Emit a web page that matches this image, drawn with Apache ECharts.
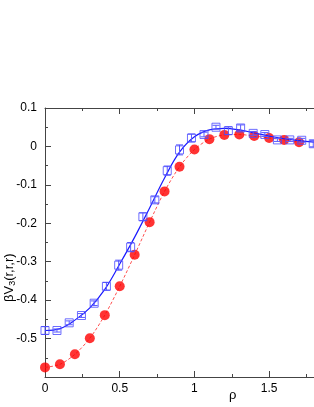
<!DOCTYPE html>
<html><head><meta charset="utf-8">
<script src="https://cdn.jsdelivr.net/npm/echarts@6/dist/echarts.min.js"></script>
<style>html,body{margin:0;padding:0;background:#fff}#c{width:314px;height:407px}</style>
</head><body><div id="c"></div>
<script>
// Blue squares (simulation) with error bars
const blueX = [0, 0.080, 0.162, 0.244, 0.329, 0.411, 0.493, 0.573, 0.655, 0.735, 0.818, 0.900, 0.980, 1.064, 1.144, 1.227, 1.309, 1.393, 1.471, 1.555, 1.638, 1.718, 1.795];
const blueY = [-0.479, -0.479, -0.459, -0.440, -0.408, -0.364, -0.309, -0.262, -0.183, -0.139, -0.063, -0.009, 0.022, 0.031, 0.050, 0.041, 0.048, 0.034, 0.031, 0.017, 0.017, 0.016, 0.007];
const blueErr = [0.010, 0.004, 0.005, 0.005, 0.006, 0.010, 0.013, 0.012, 0.010, 0.008, 0.012, 0.013, 0.010, 0.006, 0.005, 0.010, 0.008, 0.005, 0.005, 0.004, 0.004, 0.005, 0.008];
// Blue fitted curve
const fitX = [0, 0.1, 0.2, 0.3, 0.4, 0.5, 0.6, 0.7, 0.8, 0.9, 1.0, 1.1, 1.2, 1.3, 1.4, 1.5, 1.6, 1.7, 1.8];
const fitY = [-0.479, -0.474, -0.452, -0.420, -0.372, -0.306, -0.236, -0.160, -0.082, -0.015, 0.025, 0.043, 0.047, 0.043, 0.035, 0.027, 0.020, 0.015, 0.011];
// Red circles (theory)
const redX = [0, 0.1, 0.2, 0.3, 0.4, 0.5, 0.6, 0.7, 0.8, 0.9, 1.0, 1.1, 1.2, 1.3, 1.4, 1.5, 1.6, 1.7];
const redY = [-0.575, -0.567, -0.541, -0.499, -0.439, -0.364, -0.282, -0.197, -0.117, -0.053, -0.008, 0.019, 0.030, 0.031, 0.027, 0.022, 0.017, 0.011];
const xTicks = [0, 0.5, 1, 1.5];
const yTicks = [0.1, 0, -0.1, -0.2, -0.3, -0.4, -0.5];

const chart = echarts.init(document.getElementById('c'), null, {renderer: 'canvas'});
const axisCol = '#444';
const font = 'Liberation Sans, Arial, sans-serif';
const fmtX = v => xTicks.some(t => Math.abs(t - v) < 1e-9) ? String(+v.toFixed(2)) : '';
const fmtY = v => yTicks.some(t => Math.abs(t - v) < 1e-9) ? String(+v.toFixed(2)) : '';
const pair = (xs, ys) => xs.map((x, i) => [x, ys[i]]);

chart.setOption({
  animation: false,
  grid: {left: 45, top: 108, width: 270, height: 269, containLabel: false},
  xAxis: [{
    type: 'value', min: 0, max: 1.8, interval: 0.5, position: 'bottom',
    axisLine: {show: true, onZero: false, lineStyle: {color: axisCol, width: 1}},
    axisTick: {show: true, inside: true, length: 6, lineStyle: {color: axisCol}},
    minorTick: {show: true, splitNumber: 2, length: 3, lineStyle: {color: axisCol}},
    axisLabel: {formatter: fmtX, color: '#000', fontSize: 12, fontFamily: font, margin: 6, showMaxLabel: false},
    splitLine: {show: false}
  }, {
    type: 'value', min: 0, max: 1.8, interval: 0.5, position: 'top',
    axisLine: {show: true, onZero: false, lineStyle: {color: axisCol, width: 1}},
    axisTick: {show: true, inside: true, length: 6, lineStyle: {color: axisCol}},
    minorTick: {show: true, splitNumber: 2, length: 3, lineStyle: {color: axisCol}},
    axisLabel: {show: false}, splitLine: {show: false}
  }],
  yAxis: [{
    type: 'value', min: -0.6, max: 0.1, interval: 0.1, position: 'left',
    axisLine: {show: true, onZero: false, lineStyle: {color: axisCol, width: 1}},
    axisTick: {show: true, inside: true, length: 6, lineStyle: {color: axisCol}},
    minorTick: {show: true, splitNumber: 2, length: 3, lineStyle: {color: axisCol}},
    axisLabel: {formatter: fmtY, color: '#000', fontSize: 12, fontFamily: font, margin: 8, showMinLabel: false},
    splitLine: {show: false}
  }],
  graphic: [
    {type: 'text', left: 229, top: 389, style: {text: 'ρ', font: '13px ' + font, fill: '#000'}},
    {type: 'text', x: 2, y: 302, rotation: Math.PI / 2,
     style: {text: '{a|βV}{s|3}{a|(r,r,r)}', fill: '#000',
       rich: {a: {fontSize: 13, fontFamily: font, fill: '#000'},
              s: {fontSize: 9, fontFamily: font, fill: '#000', verticalAlign: 'bottom', padding: [6, 0, 0, 0]}}}}
  ],
  series: [
    {type: 'line', data: pair(redX, redY), symbol: 'none', smooth: 0.3,
     lineStyle: {color: '#ff5050', width: 1, type: [3, 2]}, z: 2},
    {type: 'scatter', data: pair(redX, redY), symbol: 'circle', symbolSize: 10,
     itemStyle: {color: '#ff0000'}, z: 3},
    {type: 'line', data: pair(fitX, fitY), symbol: 'none', smooth: 0.4,
     lineStyle: {color: '#1a1aff', width: 1.2}, z: 4},
    {type: 'custom', z: 5, data: blueX.map((x, i) => [x, blueY[i], blueErr[i]]),
     renderItem: function (params, api) {
       const x = api.value(0), y = api.value(1), e = api.value(2);
       const hi = api.coord([x, y + e]), lo = api.coord([x, y - e]);
       const st = {stroke: '#5a5aff', lineWidth: 1, fill: null};
       const w = 3.5;
       return {type: 'group', children: [
         {type: 'line', shape: {x1: hi[0], y1: hi[1], x2: lo[0], y2: lo[1]}, style: st},
         {type: 'line', shape: {x1: hi[0] - w, y1: hi[1], x2: hi[0] + w, y2: hi[1]}, style: st},
         {type: 'line', shape: {x1: lo[0] - w, y1: lo[1], x2: lo[0] + w, y2: lo[1]}, style: st}
       ]};
     }},
    {type: 'scatter', data: pair(blueX, blueY), symbol: 'rect', symbolSize: 8, z: 6,
     itemStyle: {color: 'rgba(255,255,255,0)', borderColor: '#4a4aff', borderWidth: 1}}
  ]
});
</script></body></html>
